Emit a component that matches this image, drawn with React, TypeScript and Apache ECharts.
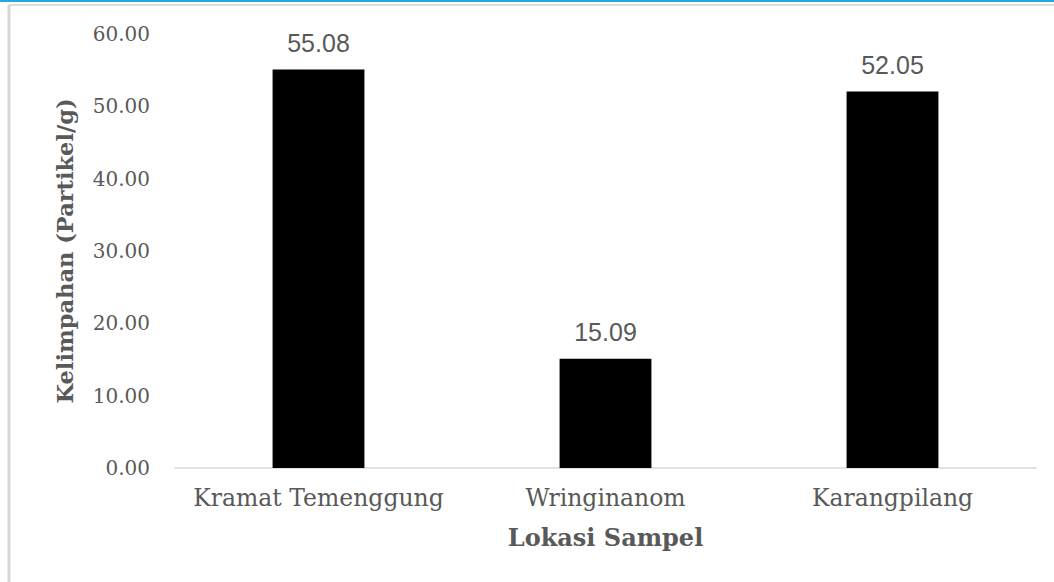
import React, { useEffect, useRef } from "react";
import * as echarts from "echarts";

const locations = ["Kramat Temenggung", "Wringinanom", "Karangpilang"];
const abundance = [55.08, 15.09, 52.05];
const yTicks = { min: 0, max: 60, interval: 10 };
const xTitle = "Lokasi Sampel";
const yTitle = "Kelimpahan (Partikel/g)";

const SERIF = "'DejaVu Serif', serif";
const SANS = "'Liberation Sans', Arial, sans-serif";
const GREY = "#595959";

export default function App() {
  const ref = useRef<HTMLDivElement>(null);

  useEffect(() => {
    if (!ref.current) return;
    const chart = echarts.init(ref.current, null, { renderer: "svg" });
    chart.setOption({
      animation: false,
      backgroundColor: "#ffffff",
      graphic: [
        { type: "rect", shape: { x: 0, y: 0, width: 1054, height: 2 }, style: { fill: "#2aa6df" } },
        { type: "line", shape: { x1: 9, y1: 5, x2: 1054, y2: 5 }, style: { stroke: "#dedede", lineWidth: 2 } },
        { type: "line", shape: { x1: 9, y1: 5, x2: 9, y2: 582 }, style: { stroke: "#d6d6d6", lineWidth: 3 } },
      ],
      grid: { left: 175, right: 18, top: 34, bottom: 114, containLabel: false },
      xAxis: {
        type: "category",
        data: locations,
        name: xTitle,
        nameLocation: "middle",
        nameGap: 57,
        nameTextStyle: { fontFamily: SERIF, fontSize: 24, fontWeight: "bold", color: GREY },
        axisLine: { lineStyle: { color: "#d9d9d9", width: 1.5 } },
        axisTick: { show: false },
        axisLabel: { fontFamily: SERIF, fontSize: 23.5, color: GREY, margin: 18, interval: 0 },
      },
      yAxis: {
        type: "value",
        min: yTicks.min,
        max: yTicks.max,
        interval: yTicks.interval,
        name: yTitle,
        nameLocation: "middle",
        nameGap: 99,
        nameTextStyle: { fontFamily: SERIF, fontSize: 22.5, fontWeight: "bold", color: GREY },
        splitLine: { show: false },
        axisLine: { show: false },
        axisTick: { show: false },
        axisLabel: {
          fontFamily: SERIF,
          fontSize: 20,
          color: GREY,
          margin: 25,
          formatter: (v: number) => v.toFixed(2),
        },
      },
      series: [
        {
          type: "bar",
          data: abundance,
          barWidth: "32%",
          itemStyle: { color: "#000000" },
          label: {
            show: true,
            position: "top",
            distance: 14,
            fontFamily: SANS,
            fontSize: 25,
            color: GREY,
            formatter: (p: any) => Number(p.value).toFixed(2),
          },
        },
      ],
    });
    return () => chart.dispose();
  }, []);

  return (
    <div
      ref={ref}
      style={{ position: "fixed", left: 0, top: 0, width: 1054, height: 582 }}
    />
  );
}
